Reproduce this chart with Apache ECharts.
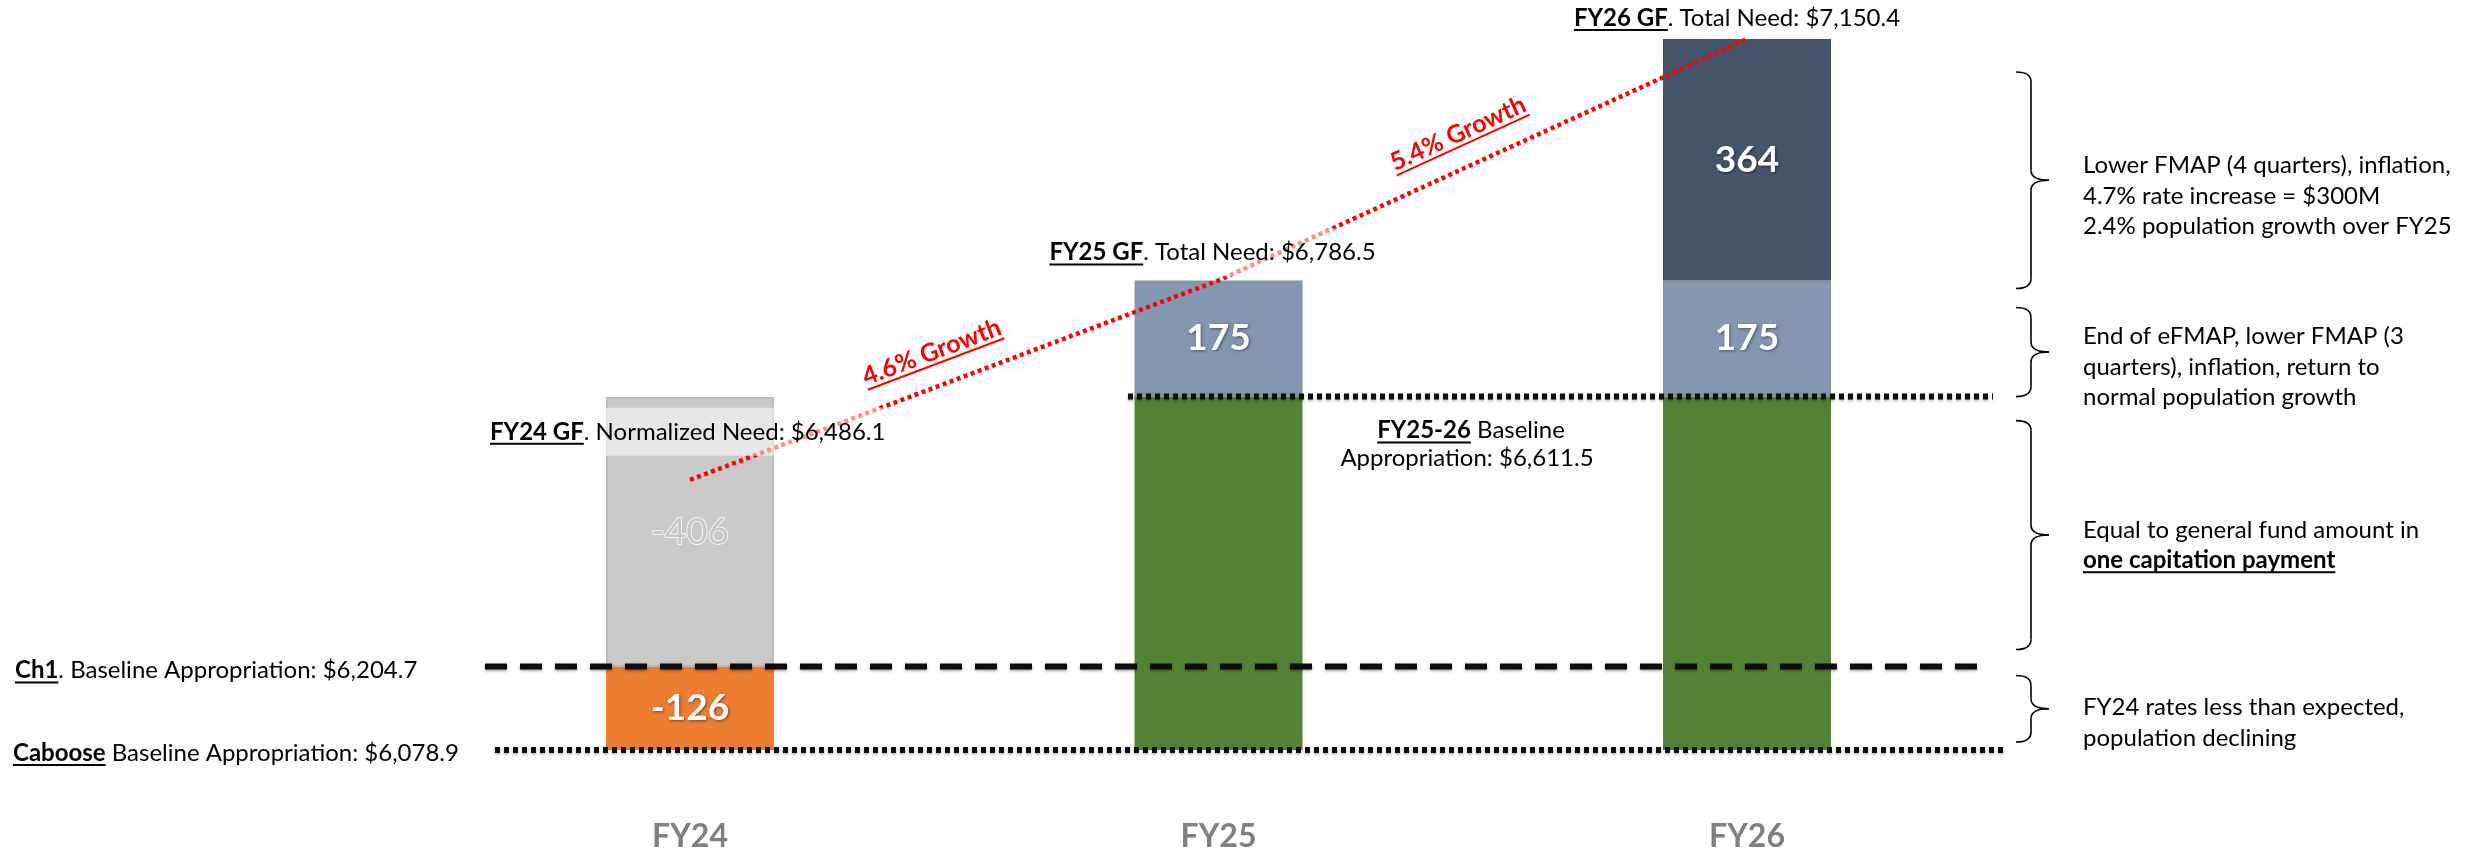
<!DOCTYPE html>
<html><head><meta charset="utf-8">
<script src="https://cdn.jsdelivr.net/npm/echarts@6/dist/echarts.min.js"></script>
<style>html,body{margin:0;padding:0;background:#fff}#c{width:2471px;height:854px}</style>
</head><body><div id="c"></div>
<script>
// ---------------- data ----------------
const categories = ['FY24', 'FY25', 'FY26'];
const cabooseBaseline = 6078.9;
const ch1Baseline = 6204.7;
const fy2526Baseline = 6611.5;
const totalNeed = [6486.1, 6786.5, 7150.4];
const ratesChange = [-126, null, null];
const normalizationChange = [-406, null, null];
const eFmapChange = [null, 175, 175];
const fmapChange = [null, null, 364];
const growthLabels = ['4.6% Growth', '5.4% Growth'];
const needLabels = [
  ['FY24 GF', '. Normalized Need: $6,486.1'],
  ['FY25 GF', '. Total Need: $6,786.5'],
  ['FY26 GF', '. Total Need: $7,150.4']
];
const ch1Label = ['Ch1', '. Baseline Appropriation: $6,204.7'];
const cabooseLabel = ['Caboose', ' Baseline Appropriation: $6,078.9'];
const baselineLabel = ['FY25-26', ' Baseline', 'Appropriation: $6,611.5'];
const notes = [
  ['Lower FMAP (4 quarters), inflation,', '4.7% rate increase = $300M', '2.4% population growth over FY25'],
  ['End of eFMAP, lower FMAP (3', 'quarters), inflation, return to', 'normal population growth'],
  ['Equal to general fund amount in', '**one capitation payment'],
  ['FY24 rates less than expected,', 'population declining']
];

// ---------------- chart ----------------
const FONT = 'Lato, "Noto Sans", sans-serif';
const chart = echarts.init(document.getElementById('c'), null, {renderer: 'canvas', width: 2471, height: 854});
const toBar = arr => arr.map(v => v == null ? '-' : Math.abs(v));
const greenData = categories.map((c, i) => eFmapChange[i] == null ? '-' : +(fy2526Baseline - cabooseBaseline).toFixed(1));

const segLabel = (arr, extra) => Object.assign({
  show: true, position: 'inside',
  formatter: p => String(arr[p.dataIndex]),
  color: '#fff', fontFamily: FONT, fontWeight: 'bold', fontSize: 37,
  textShadowColor: 'rgba(0,0,0,0.45)', textShadowBlur: 3, textShadowOffsetX: 1, textShadowOffsetY: 1
}, extra || {});

const BW = 168;
const option = {
  animation: false,
  backgroundColor: '#fff',
  grid: {left: 425.75, right: 459.75, top: 6.09, bottom: 51.65, containLabel: false, outerBoundsMode: 'none'},
  xAxis: {
    type: 'category', data: categories,
    axisLine: {show: false}, axisTick: {show: false}, splitLine: {show: false},
    axisLabel: {color: '#808080', fontFamily: FONT, fontWeight: 'bold', fontSize: 32, margin: 18}
  },
  yAxis: {type: 'value', min: 6000, max: 7200, show: false},
  series: [
    {name: 'base', type: 'bar', stack: 'a', barWidth: BW, silent: true,
      data: categories.map(() => cabooseBaseline), itemStyle: {color: 'rgba(0,0,0,0)'}},
    {name: 'rates', type: 'bar', stack: 'a', barWidth: BW, data: toBar(ratesChange),
      itemStyle: {color: '#ED7D31'}, label: segLabel(ratesChange)},
    {name: 'normalization', type: 'bar', stack: 'a', barWidth: BW, data: toBar(normalizationChange),
      itemStyle: {color: '#C9C9C9', borderColor: '#B4B4B4', borderWidth: 1.5},
      label: segLabel(normalizationChange, {color: '#c6c6c6', fontWeight: 'normal', textBorderColor: '#ffffff', textBorderWidth: 1.6, textShadowBlur: 0, textShadowColor: 'transparent'})},
    {name: 'baseline', type: 'bar', stack: 'a', barWidth: BW, data: greenData,
      itemStyle: {color: '#548235'}},
    {name: 'efmap', type: 'bar', stack: 'a', barWidth: BW, data: toBar(eFmapChange),
      itemStyle: {color: '#8497B0'}, label: segLabel(eFmapChange)},
    {name: 'fmap', type: 'bar', stack: 'a', barWidth: BW, data: toBar(fmapChange),
      itemStyle: {color: '#44546A'}, label: segLabel(fmapChange)},
    {name: 'growth', type: 'line', z: 3, data: totalNeed, symbol: 'none', silent: true,
      lineStyle: {color: '#FF0000', width: 4.5, type: [4, 3.5], cap: 'butt'}}
  ]
};
chart.setOption(option);

// ---------------- annotations ----------------
const P = (i, v) => chart.convertToPixel({gridIndex: 0}, [i, v]);
const Y = v => chart.convertToPixel({gridIndex: 0}, [0, v])[1];
const mctx = document.createElement('canvas').getContext('2d');
const fontStr = (b, s) => (b ? 'bold ' : '') + s + 'px ' + FONT;
const tw = (t, b, s) => { mctx.font = fontStr(b, s); return mctx.measureText(t).width; };
const G = [];

function richLine(parts, x, y, align, size, color, z) {
  const widths = parts.map(p => tw(p.t, p.b, size));
  const total = widths.reduce((a, b) => a + b, 0);
  let cx = align === 'center' ? x - total / 2 : (align === 'right' ? x - total : x);
  const left = cx;
  const els = [];
  parts.forEach((p, i) => {
    els.push({type: 'text', x: cx, y: y, z: z || 110, silent: true,
      style: {text: p.t, font: fontStr(p.b, size), fill: color, align: 'left', verticalAlign: 'middle', textAlign: 'left', textVerticalAlign: 'middle'}});
    if (p.u) els.push({type: 'line', z: z || 110, silent: true,
      shape: {x1: cx, y1: y + size * 0.5, x2: cx + widths[i], y2: y + size * 0.5},
      style: {stroke: color, lineWidth: 2}});
    cx += widths[i];
  });
  return {els, left, total};
}
function addLine(parts, x, y, align, size, color, band) {
  const r = richLine(parts, x, y, align, size, color);
  if (band) {
    G.push({type: 'rect', z: 105, silent: true,
      shape: {x: r.left - 6, y: y - 24, width: r.total + 12, height: 48},
      style: {fill: 'rgba(255,255,255,0.55)'}});
  }
  r.els.forEach(e => G.push(e));
}

// reference lines
const yCab = Y(cabooseBaseline), yCh1 = Y(ch1Baseline), yBase = Y(fy2526Baseline);
const refLine = (x1, x2, y, dash, w) => G.push({type: 'line', z: 60, silent: true,
  shape: {x1, y1: y, x2, y2: y},
  style: {stroke: '#0d0d0d', lineWidth: w, lineDash: dash, shadowBlur: 3, shadowColor: 'rgba(0,0,0,0.35)', shadowOffsetY: 1.5}});
refLine(485, 1983, yCh1, [22, 13], 6);
refLine(495, 2003, yCab, [5, 4], 6);
refLine(1128, 1993, yBase, [5, 4], 6);

// left labels
addLine([{t: ch1Label[0], b: 1, u: 1}, {t: ch1Label[1]}], 15, yCh1 + 4, 'left', 24, '#000');
addLine([{t: cabooseLabel[0], b: 1, u: 1}, {t: cabooseLabel[1]}], 13, yCab + 3, 'left', 24, '#000');

// need labels
const p0 = P(0, totalNeed[0]), p1 = P(1, totalNeed[1]), p2 = P(2, totalNeed[2]);
addLine([{t: needLabels[0][0], b: 1, u: 1}, {t: needLabels[0][1]}], 490, p0[1] - 48, 'left', 24, '#000', true);
addLine([{t: needLabels[1][0], b: 1, u: 1}, {t: needLabels[1][1]}], p1[0] - 6, p1[1] - 28, 'center', 24, '#000', true);
addLine([{t: needLabels[2][0], b: 1, u: 1}, {t: needLabels[2][1]}], p2[0] - 10, p2[1] - 21, 'center', 24, '#000', false);

// baseline label
addLine([{t: baselineLabel[0], b: 1, u: 1}, {t: baselineLabel[1]}], 1471, yBase + 34, 'center', 24, '#000');
addLine([{t: baselineLabel[2]}], 1467, yBase + 62, 'center', 24, '#000');

// growth labels
function growth(a, b, text) {
  const dx = b[0] - a[0], dy = b[1] - a[1], len = Math.hypot(dx, dy);
  const ux = dx / len, uy = dy / len;
  const nx = uy, ny = -ux; // upward normal
  const t = 0.48, off = 34;
  const cx = a[0] + dx * t + nx * off, cy = a[1] + dy * t + ny * off;
  const ang = Math.atan2(-dy, dx);
  const size = 25, w = tw(text, true, size);
  G.push({type: 'group', x: cx, y: cy, rotation: ang, z: 110, children: [
    {type: 'text', x: 0, y: 0, z: 110, silent: true,
      style: {text, font: fontStr(true, size), fill: '#FF0000', align: 'center', verticalAlign: 'middle', textAlign: 'center', textVerticalAlign: 'middle'}},
    {type: 'line', z: 110, silent: true, shape: {x1: -w / 2, y1: size * 0.5, x2: w / 2, y2: size * 0.5},
      style: {stroke: '#FF0000', lineWidth: 2}}
  ]});
}
growth(p0, p1, growthLabels[0]);
growth(p1, p2, growthLabels[1]);

// braces + notes
function addBrace(xl, top, bot) {
  const hook = 15, tip = 18, r = 10, mid = (top + bot) / 2;
  const st = {stroke: '#000', lineWidth: 1.6, fill: null};
  const bz = (x1, y1, cx, cy, x2, y2) => G.push({type: 'bezierCurve', z: 60, silent: true,
    shape: {x1, y1, cpx1: cx, cpy1: cy, x2, y2}, style: st});
  const ln = (x1, y1, x2, y2) => G.push({type: 'line', z: 60, silent: true, shape: {x1, y1, x2, y2}, style: st});
  bz(xl - hook, top, xl, top, xl, top + r);
  ln(xl, top + r, xl, mid - r);
  bz(xl, mid - r, xl, mid, xl + tip, mid);
  bz(xl + tip, mid, xl, mid, xl, mid + r);
  ln(xl, mid + r, xl, bot - r);
  bz(xl, bot - r, xl, bot, xl - hook, bot);
}
const braces = [
  [Y(totalNeed[2]) + 33, Y(totalNeed[1]) + 8, 16],
  [Y(totalNeed[1]) + 27, yBase, 15],
  [yBase + 24, yCh1 - 17, 10],
  [yCh1 + 9, yCab - 8, 14]
];
braces.forEach((b, k) => {
  addBrace(2031, b[0], b[1]);
  const lines = notes[k];
  const mid = (b[0] + b[1]) / 2 + b[2];
  const step = 30.5;
  const start = mid - step * (lines.length - 1) / 2;
  lines.forEach((ln, j) => {
    const bold = ln.startsWith('**');
    const txt = bold ? ln.slice(2) : ln;
    addLine([{t: txt, b: bold, u: bold}], 2083, start + j * step, 'left', 24, '#000');
  });
});

chart.setOption({graphic: {elements: G}});
</script>
</body></html>
